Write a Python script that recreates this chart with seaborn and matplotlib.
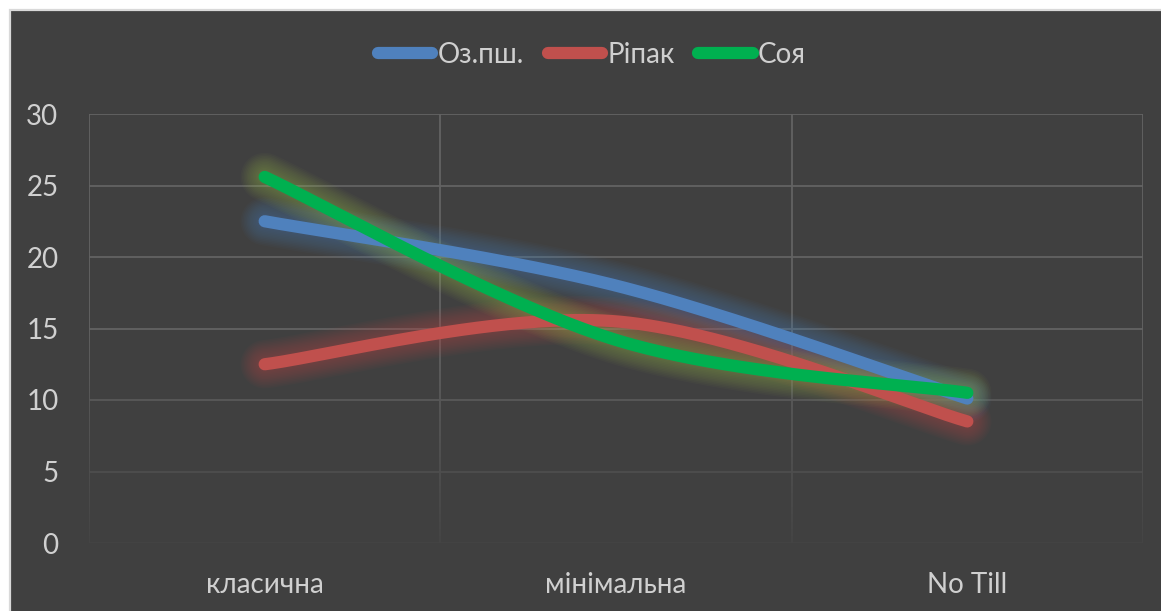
import numpy as np
import pandas as pd
import matplotlib
matplotlib.use("Agg")
import matplotlib.pyplot as plt
import seaborn as sns
from matplotlib.patches import Rectangle
from matplotlib.collections import LineCollection
from matplotlib.lines import Line2D
from matplotlib.colors import to_rgb

# --- data -------------------------------------------------------------
categories = ["класична", "мінімальна", "No Till"]
series_names = ["Оз.пш.", "Ріпак", "Соя"]
wheat = [22.5, 18.0, 10.1]
rapeseed = [12.5, 15.5, 8.5]
soy = [25.6, 14.2, 10.5]
y_ticks = [0, 5, 10, 15, 20, 25, 30]

line_colors = ["#4f81bd", "#c0504d", "#00b050"]
glow_colors = ["#4f81bd", "#c0504d", "#9bbb59"]

BG = "#404040"
TEXT = "#d0d0d0"
GRID = "#636363"


def smooth_curve(xs, ys, n=80):
    """Cubic Bezier smoothing through the points (spreadsheet-style)."""
    pts = np.column_stack([xs, ys]).astype(float)
    ext = np.vstack([pts[0], pts, pts[-1]])
    parts = []
    t = np.linspace(0, 1, n)[:, None]
    for i in range(len(pts) - 1):
        p0, p1, p2, p3 = ext[i], ext[i + 1], ext[i + 2], ext[i + 3]
        c1 = p1 + (p2 - p0) / 6.0
        c2 = p2 - (p3 - p1) / 6.0
        seg = ((1 - t) ** 3) * p1 + 3 * ((1 - t) ** 2) * t * c1 \
            + 3 * (1 - t) * (t ** 2) * c2 + (t ** 3) * p2
        parts.append(seg if i == 0 else seg[1:])
    return np.vstack(parts)


sns.set_theme(style="dark")
plt.rcParams["font.family"] = ["Lato", "DejaVu Sans"]

W, H = 1161, 611
fig = plt.figure(figsize=(W / 100, H / 100), dpi=100, facecolor="white")

# chart area frame
fig.patches.append(Rectangle((10 / W, -0.05), 1.2, 1 - 10 / H + 0.05,
                             transform=fig.transFigure, facecolor=BG,
                             edgecolor="#d9d9d9", linewidth=1.6, zorder=-10))

left, right, top, bottom = 89, 1143, 114, 543
ax = fig.add_axes([left / W, 1 - bottom / H, (right - left) / W, (bottom - top) / H])
ax.set_zorder(1)
ax.set_facecolor(BG)
ax.patch.set_alpha(0)
for s in ax.spines.values():
    s.set_visible(False)

ax.set_xlim(-0.5, len(categories) - 0.5)
ax.set_ylim(0, 30)


def fade(y):
    return float(np.clip((y + 2.0) / 17.0, 0, 1))


def mix(f):
    g, b = np.array(to_rgb(GRID)), np.array(to_rgb(BG))
    return tuple(b + (g - b) * f)


# horizontal gridlines fading toward the bottom
for yv in y_ticks:
    ax.axhline(yv, color=mix(fade(yv)), lw=1.3, zorder=1)

# vertical category separators fading toward the bottom
ys = np.linspace(0, 30, 61)
for xv in np.arange(-0.5, len(categories), 1.0):
    segs = [[(xv, ys[i]), (xv, ys[i + 1])] for i in range(len(ys) - 1)]
    cols = [mix(fade((ys[i] + ys[i + 1]) / 2)) for i in range(len(ys) - 1)]
    ax.add_collection(LineCollection(segs, colors=cols, linewidths=1.3, zorder=1))

# smoothed series with soft glow
x_idx = np.arange(len(categories))
LW = 8.8
for name, vals, lc, gc in zip(series_names, [wheat, rapeseed, soy], line_colors, glow_colors):
    curve = smooth_curve(x_idx, vals)
    df = pd.DataFrame({"x": curve[:, 0], "y": curve[:, 1]})
    for extra in np.linspace(26, 2, 12):
        sns.lineplot(data=df, x="x", y="y", sort=False, estimator=None, ax=ax,
                     color=gc, lw=LW + extra, alpha=0.04,
                     solid_capstyle="round", zorder=2)
    sns.lineplot(data=df, x="x", y="y", sort=False, estimator=None, ax=ax,
                 color=lc, lw=LW, solid_capstyle="round", zorder=3)

ax.set_xlabel("")
ax.set_ylabel("")
ax.set_xticks(x_idx)
ax.set_xticklabels(categories, fontsize=20, color=TEXT)
ax.set_yticks(y_ticks)
ax.set_yticklabels([str(v) for v in y_ticks], fontsize=20, color=TEXT)
ax.tick_params(axis="x", length=0, pad=21)
ax.tick_params(axis="y", length=0, pad=22)
ax.grid(False)

handles = [Line2D([0], [0], color=c, lw=LW, solid_capstyle="round") for c in line_colors]
fig.legend(handles, series_names, loc="center", bbox_to_anchor=(0.51, 1 - 55 / H),
           ncol=3, frameon=False, fontsize=20, labelcolor=TEXT,
           handlelength=1.95, handletextpad=0.2, columnspacing=0.85)

fig.savefig("out.png", dpi=100, facecolor="white")
